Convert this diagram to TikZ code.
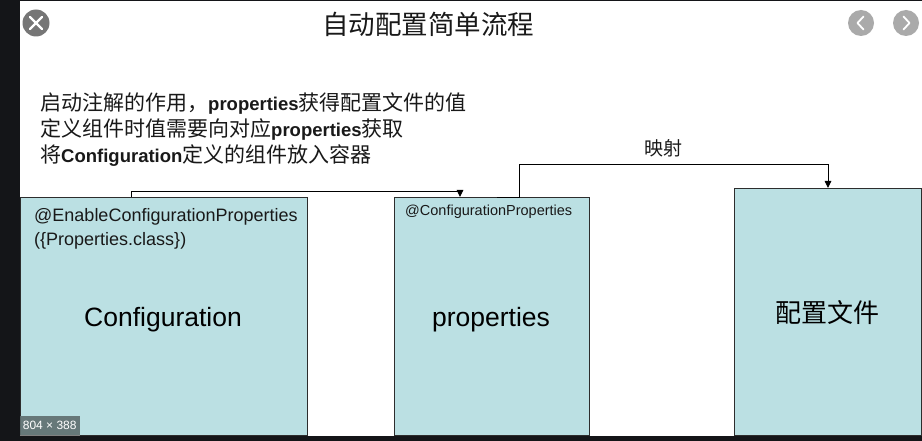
\documentclass[tikz,border=0pt]{standalone}
\usepackage{fontspec}
\setmainfont{Liberation Sans}
\newfontfamily\cjkfont{Noto Sans CJK SC}
\usetikzlibrary{arrows.meta,calc}

\definecolor{panel}{RGB}{187,224,227}
\definecolor{edge}{RGB}{45,45,45}
\definecolor{frame}{RGB}{20,21,24}
\definecolor{ink}{RGB}{25,25,25}
\definecolor{btngray}{RGB}{118,118,118}
\definecolor{navgray}{RGB}{170,170,170}
\definecolor{tag}{RGB}{95,112,112}

\newcommand\zhtxt[1]{{\cjkfont #1}}
\newcommand\lattxt[1]{\textbf{\fontsize{18.5}{26}\selectfont #1}}

\tikzset{
  panelbox/.style={draw=edge, fill=panel, line width=1.1pt, inner sep=0pt, anchor=north west},
  conn/.style={draw=black, line width=0.9pt},
  tip/.style={-{Triangle[length=7pt,width=6.5pt]}},
  bigtext/.style={font=\fontsize{26.5}{30}\selectfont, text=black, inner sep=0pt},
  anno/.style={font=\fontsize{18}{24}\selectfont, text=ink, align=left, inner sep=0pt, anchor=west},
  roundbtn/.style={circle, inner sep=0pt, minimum size=27pt},
  glyph/.style={draw=white, line width=2.2pt, line cap=round, line join=round}
}

\begin{document}
\begin{tikzpicture}[x=1pt,y=-1pt]
  \useasboundingbox (0,0) rectangle (922,441);
  \fill[white] (0,0) rectangle (922,441);

  % window frame
  \fill[frame] (0,0) rectangle (19.5,441);
  \fill[frame] (0,0) rectangle (922,1.5);
  \fill[frame] (0,436) rectangle (922,441);

  % title and window buttons
  \node[font=\cjkfont\fontsize{26.5}{30}\selectfont, text=ink, inner sep=0pt] (title) at (428,24) {自动配置简单流程};
  \node[roundbtn, fill=btngray] (close) at (36,23) {};
  \draw[glyph] ($(close)+(-6,-6)$) -- ($(close)+(6,6)$);
  \draw[glyph] ($(close)+(-6,6)$) -- ($(close)+(6,-6)$);
  \node[roundbtn, fill=navgray, minimum size=26pt] (prev) at (861,23) {};
  \draw[glyph, line width=1.8pt] ($(prev)+(2.5,-6.5)$) -- ($(prev)+(-3.5,0)$) -- ($(prev)+(2.5,6.5)$);
  \node[roundbtn, fill=navgray, minimum size=26pt] (next) at (906,23) {};
  \draw[glyph, line width=1.8pt] ($(next)+(-2.5,-6.5)$) -- ($(next)+(3.5,0)$) -- ($(next)+(-2.5,6.5)$);

  % explanatory text
  \node[font=\fontsize{21}{26}\selectfont, text=ink, align=left, inner sep=0pt, anchor=west] (notes) at (40,130)
    {\zhtxt{启动注解的作用，}\lattxt{properties}\zhtxt{获得配置文件的值}\\
     \zhtxt{定义组件时值需要向对应}\lattxt{properties}\zhtxt{获取}\\
     \zhtxt{将}\lattxt{Configuration}\zhtxt{定义的组件放入容器}};

  % the three boxes
  \node[panelbox, minimum width=287pt, minimum height=238pt] (config) at (20,197) {};
  \node[panelbox, minimum width=195pt, minimum height=238pt] (props) at (394,197) {};
  \node[panelbox, minimum width=187pt, minimum height=247pt] (file) at (734,188) {};

  % box contents
  \node[anno] (enable) at (34,229) {@EnableConfigurationProperties\\(\{Properties.class\})};
  \node[bigtext] (configlabel) at (163,320) {Configuration};
  \node[font=\fontsize{14.5}{18}\selectfont, text=ink, inner sep=0pt, anchor=west] (cpanno) at (405,212) {@ConfigurationProperties};
  \node[bigtext] (propslabel) at (491,320) {properties};
  \node[bigtext, font=\cjkfont\fontsize{26}{30}\selectfont] (filelabel) at (827,313) {配置文件};

  % connectors
  \draw[conn, tip] (131,0 |- config.north) |- (460,191) -- (460,0 |- props.north);
  \draw[conn, tip] (497,0 |- props.north) -- (519,0 |- props.north) |- (828,164) -- (828,0 |- file.north);
  \node[font=\cjkfont\fontsize{19}{22}\selectfont, text=ink, inner sep=0pt] (maplabel) at (663,148) {映射};

  % size tag
  \fill[tag, opacity=0.92] (19.5,416) rectangle (80,434.5) node[midway, text=white, opacity=1, font=\fontsize{12}{14}\selectfont] (sizetag) {804 × 388};
  \fill[gray] (19.5,434.5) rectangle (80,436);
\end{tikzpicture}
\end{document}
